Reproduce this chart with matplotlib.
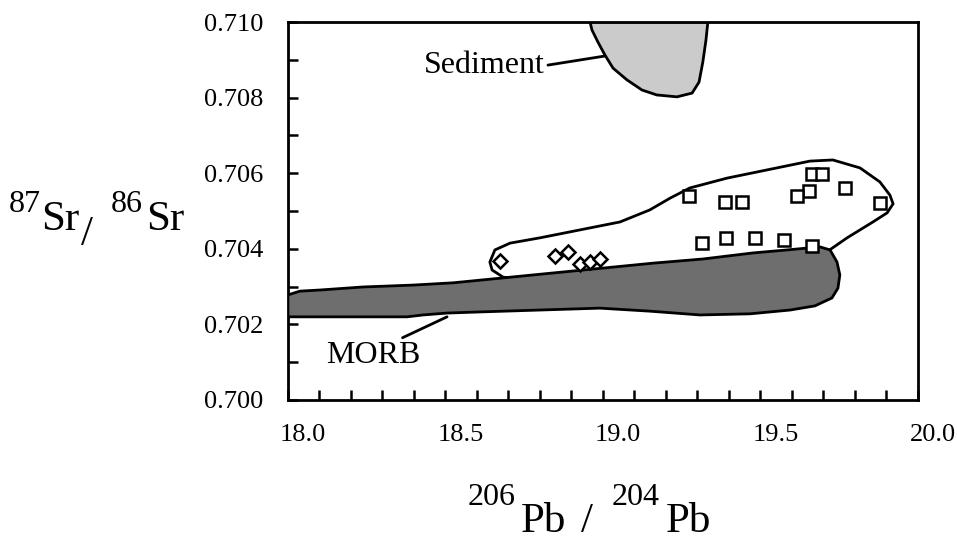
import matplotlib
matplotlib.use("Agg")
import matplotlib.pyplot as plt
import matplotlib.transforms as mtransforms
from matplotlib.patches import Polygon
import numpy as np

plt.rcParams['font.family'] = ['Liberation Serif', 'DejaVu Serif']

# measured samples (206Pb/204Pb, 87Sr/86Sr)
square_pb = [19.273, 19.387, 19.441, 19.663, 19.695, 19.654, 19.616, 19.768, 19.879,
             19.314, 19.390, 19.483, 19.575, 19.663]
square_sr = [0.70540, 0.70524, 0.70524, 0.70598, 0.70598, 0.70553, 0.70540, 0.70561, 0.70521,
             0.70415, 0.70429, 0.70429, 0.70423, 0.70407]

diamond_pb = [18.673, 18.848, 18.889, 18.927, 18.959, 18.990]
diamond_sr = [0.70368, 0.70381, 0.70392, 0.70360, 0.70365, 0.70373]

# field outlines
field_pb = [18.641, 18.657, 18.705, 18.800, 18.927, 19.054, 19.149, 19.213, 19.276, 19.394,
            19.552, 19.657, 19.730, 19.816, 19.879, 19.911, 19.921, 19.902, 19.857, 19.775,
            19.711, 19.584, 19.476, 19.317, 19.159, 19.054, 18.895, 18.737, 18.683, 18.648]
field_sr = [0.70365, 0.70397, 0.70415, 0.70429, 0.70450, 0.70471, 0.70503, 0.70534, 0.70561, 0.70587,
            0.70614, 0.70632, 0.70635, 0.70614, 0.70577, 0.70542, 0.70519, 0.70495, 0.70471, 0.70429,
            0.70392, 0.70394, 0.70386, 0.70368, 0.70349, 0.70339, 0.70328, 0.70320, 0.70325, 0.70344]

morb_pb = [18.000, 18.038, 18.102, 18.238, 18.397, 18.524, 18.683, 18.841, 19.000, 19.159,
           19.317, 19.476, 19.584, 19.689, 19.721, 19.743, 19.752, 19.746, 19.727, 19.673,
           19.594, 19.467, 19.308, 19.149, 18.990, 18.800, 18.610, 18.505, 18.429, 18.378,
           18.187, 18.000]
morb_sr = [0.70278, 0.70288, 0.70291, 0.70299, 0.70304, 0.70310, 0.70323, 0.70336, 0.70349, 0.70362,
           0.70373, 0.70389, 0.70397, 0.70405, 0.70397, 0.70365, 0.70331, 0.70296, 0.70270, 0.70249,
           0.70238, 0.70228, 0.70225, 0.70235, 0.70243, 0.70238, 0.70233, 0.70230, 0.70225, 0.70220,
           0.70220, 0.70220]

sediment_pb = [18.959, 18.965, 18.984, 19.006, 19.032, 19.076, 19.124, 19.171, 19.235, 19.283,
               19.305, 19.317, 19.327, 19.333]
sediment_sr = [0.71000, 0.70979, 0.70947, 0.70913, 0.70878, 0.70847, 0.70820, 0.70807, 0.70802, 0.70812,
               0.70841, 0.70894, 0.70952, 0.71000]

x_labels = ['18.0', '18.5', '19.0', '19.5', '20.0']
y_labels = ['0.700', '0.702', '0.704', '0.706', '0.708', '0.710']

fig = plt.figure(figsize=(9.57, 5.42), dpi=100)
ax = fig.add_axes([0.3009, 0.2620, 0.6583, 0.6974])

ax.add_patch(Polygon(np.column_stack([sediment_pb, sediment_sr]), closed=True,
                     facecolor='#cbcbcb', edgecolor='black', linewidth=2.0, zorder=2))
ax.add_patch(Polygon(np.column_stack([field_pb, field_sr]), closed=True,
                     facecolor='white', edgecolor='black', linewidth=2.0, zorder=2))
ax.add_patch(Polygon(np.column_stack([morb_pb, morb_sr]), closed=True,
                     facecolor='#6e6e6e', edgecolor='black', linewidth=2.0, zorder=3))

ax.plot(square_pb, square_sr, 's', ms=9, mfc='white', mec='black', mew=1.8, zorder=4)
ax.plot(diamond_pb, diamond_sr, 'D', ms=7.3, mfc='white', mec='black', mew=1.8, zorder=4)

ax.annotate('Sediment', xy=(19.006, 0.70910), xytext=(18.622, 0.70886),
            fontsize=23, ha='center', va='center',
            arrowprops=dict(arrowstyle='-', color='black', lw=2.0, shrinkA=0, shrinkB=0,
                            relpos=(1.03, 0.5)))
ax.annotate('MORB', xy=(18.505, 0.70220), xytext=(18.270, 0.70119),
            fontsize=23, ha='center', va='center',
            arrowprops=dict(arrowstyle='-', color='black', lw=2.0, shrinkA=0, shrinkB=0,
                            relpos=(0.75, 1.0)))

ax.set_xlim(18.0, 20.0)
ax.set_ylim(0.700, 0.710)
ax.set_xticks(np.arange(18.0, 20.01, 0.5))
ax.set_xticklabels(x_labels)
ax.set_xticks(np.arange(18.0, 20.01, 0.1), minor=True)
ax.set_yticks(np.arange(0.700, 0.7101, 0.002))
ax.set_yticklabels(y_labels)
ax.set_yticks(np.arange(0.700, 0.7101, 0.001), minor=True)
ax.tick_params(which='both', direction='in', length=7, width=1.8, top=False, right=False)
ax.tick_params(axis='x', which='major', pad=17, labelsize=19)
ax.tick_params(axis='y', which='major', pad=18, labelsize=19)
for s in ax.spines.values():
    s.set_linewidth(2.0)

# x tick labels sit a little right of their ticks in the original
shift = mtransforms.ScaledTranslation(15 / 100, 0, fig.dpi_scale_trans)
for lab in ax.get_xticklabels():
    lab.set_transform(lab.get_transform() + shift)

# axis titles built from pieces (superscripts, lowered slash)
W, H = 957.0, 542.0
big, small = 31, 23
def piece(s, left, base, size):
    fig.text(left / W, (H - base) / H, s, fontsize=size, va='baseline', ha='left')

piece('206', 468, 505, small)
piece('Pb', 521, 532, big)
piece('/', 581, 532, big)
piece('204', 612, 505, small)
piece('Pb', 666, 532, big)

piece('87', 9, 212, small)
piece('Sr', 41, 230, big)
piece('/', 81, 245, big)
piece('86', 111, 212, small)
piece('Sr', 146, 230, big)

fig.savefig('out.png', dpi=100)
